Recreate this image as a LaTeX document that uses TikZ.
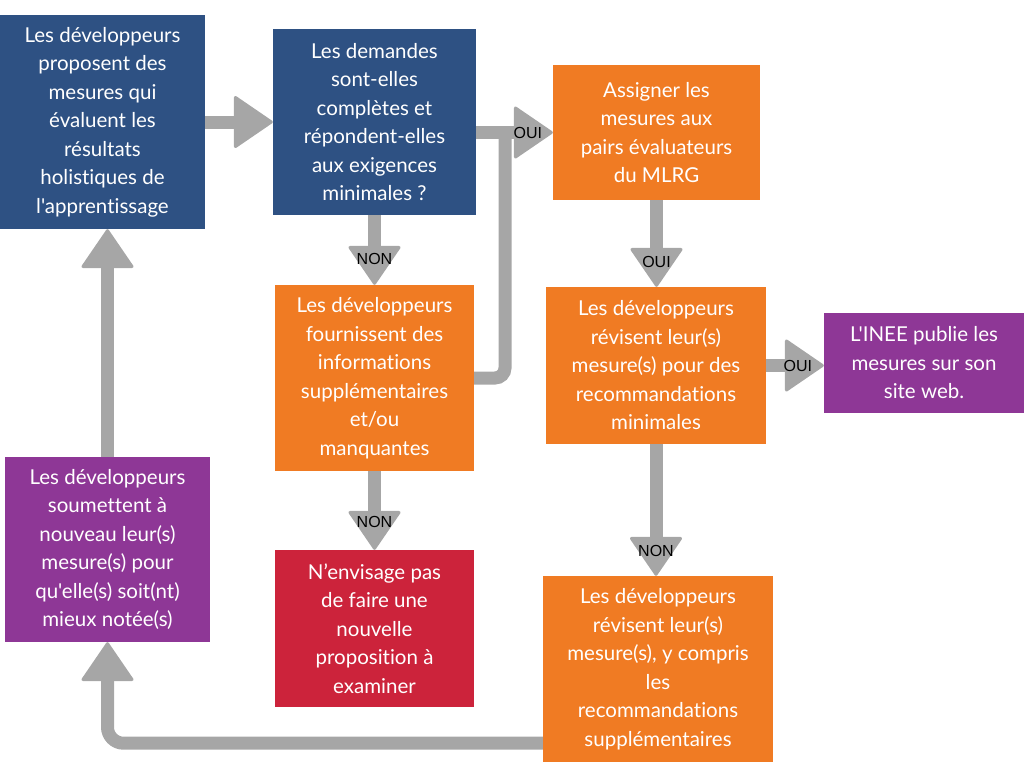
\documentclass[tikz,border=0pt]{standalone}
\usepackage{fontspec}
\newfontfamily\boxfont{Lato}[Ligatures=NoCommon]
\newfontfamily\lblfont{Liberation Sans}
\usetikzlibrary{arrows.meta, positioning}
\definecolor{ineeblue}{HTML}{2E5183}
\definecolor{ineeorange}{HTML}{F07B23}
\definecolor{ineepurple}{HTML}{8E3796}
\definecolor{ineered}{HTML}{CC233B}
\definecolor{flowgray}{HTML}{A6A6A6}
\tikzset{
  box/.style={
    rectangle, inner sep=0pt, align=center, text=white,
    font=\boxfont\fontsize{20.5}{28.5}\selectfont
  },
  bluebox/.style   = {box, fill=ineeblue},
  orangebox/.style = {box, fill=ineeorange},
  purplebox/.style = {box, fill=ineepurple},
  redbox/.style    = {box, fill=ineered},
  flowline/.style  = {draw=flowgray, line width=13pt},
  flow/.style      = {flowline, -{Triangle[length=40pt, width=54pt, round, line width=3pt]}},
  lbl/.style       = {font=\lblfont\fontsize{16}{16}\selectfont, text=black, inner sep=0pt},
}

\begin{document}
\begin{tikzpicture}[x=1pt, y=-1pt]
  \useasboundingbox (0,0) rectangle (1024,768);

  % -- top row --------------------------------------------------------------
  \node[bluebox, minimum width=205pt, minimum height=214pt] (prop) at (102.5,122)
    {Les développeurs\\proposent des\\mesures qui\\évaluent les\\résultats\\holistiques de\\l'apprentissage};
  \node[bluebox, minimum width=203pt, minimum height=186pt] (dem) at (374.5,122)
    {Les demandes\\sont-elles\\complètes et\\répondent-elles\\aux exigences\\minimales ?};
  \node[orangebox, minimum width=207pt, minimum height=135pt] (assign) at (656.5,132.5)
    {Assigner les\\mesures aux\\pairs évaluateurs\\du MLRG};

  % -- middle row -----------------------------------------------------------
  \node[orangebox, minimum width=199pt, minimum height=186pt] (info) at (374.5,378)
    {Les développeurs\\fournissent des\\informations\\supplémentaires\\et/ou\\manquantes};
  \node[orangebox, minimum width=220pt, minimum height=157pt] (revmin) at (656,365.5)
    {Les développeurs\\révisent leur(s)\\mesure(s) pour des\\recommandations\\minimales};
  \node[purplebox, minimum width=200pt, minimum height=100pt] (pub) at (924,363)
    {L'INEE publie les\\mesures sur son\\site web.};

  % -- bottom row -----------------------------------------------------------
  \node[purplebox, minimum width=205pt, minimum height=185pt] (resub) at (107.5,549.5)
    {Les développeurs\\soumettent à\\nouveau leur(s)\\mesure(s) pour\\qu'elle(s) soit(nt)\\mieux notée(s)};
  \node[redbox, minimum width=199pt, minimum height=157pt] (stop) at (374.5,628.5)
    {N’envisage pas\\de faire une\\nouvelle\\proposition à\\examiner};
  \node[orangebox, minimum width=230pt, minimum height=186pt] (revsup) at (658,669)
    {Les développeurs\\révisent leur(s)\\mesure(s), y compris\\les\\recommandations\\supplémentaires};

  % -- connectors -----------------------------------------------------------
  \draw[flow] (prop.east) -- (dem.west);
  \draw[flow] (dem.south) -- (info.north) node[lbl, yshift=26pt] {NON};
  \draw[flow] (dem.east |- assign.west) -- (assign.west) node[lbl, xshift=-25pt] {OUI};
  \coordinate (join) at (505,132);
  \draw[flowline, rounded corners=10pt] (info.east) -| (join);
  \draw[flow] (assign.south) -- (assign.south |- revmin.north) node[lbl, yshift=25pt] {OUI};
  \draw[flow] (revmin.east) -- (revmin.east -| pub.west) node[lbl, xshift=-26pt] {OUI};
  \draw[flow] (revmin.south) -- (revmin.south |- revsup.north) node[lbl, yshift=25pt] {NON};
  \draw[flow] (info.south) -- (stop.north) node[lbl, yshift=28pt] {NON};
  \draw[flow, rounded corners=16pt] ([yshift=19pt]revsup.south west) -| (resub.south);
  \draw[flow] (resub.north) -- (resub.north |- prop.south);

\end{tikzpicture}
\end{document}
